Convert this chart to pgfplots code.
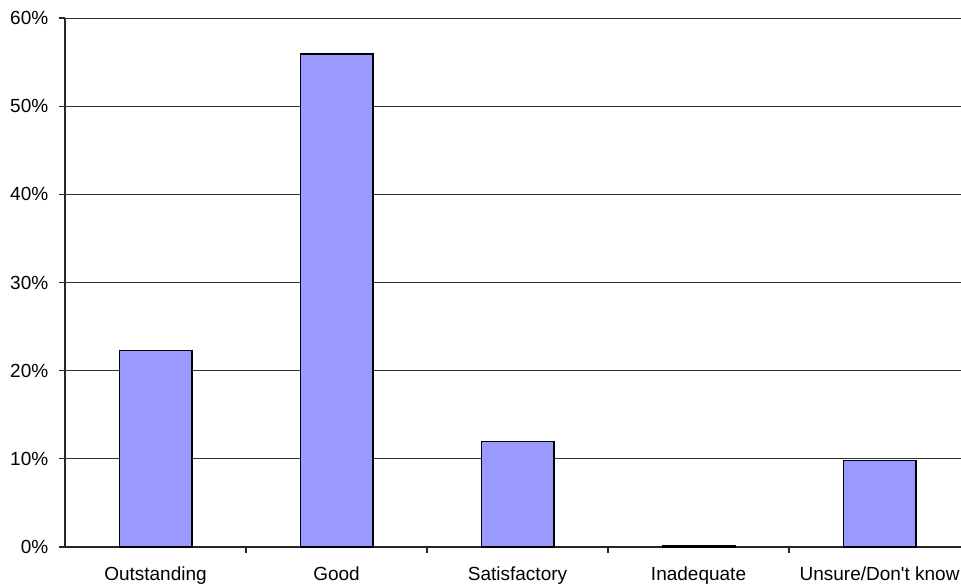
\documentclass[border=0pt]{standalone}
\usepackage{fontspec}
\setmainfont{Liberation Sans}
\usepackage{pgfplots}
\pgfplotsset{compat=1.18}
\definecolor{barblue}{HTML}{9999FF}
\begin{document}
\fontsize{9.5}{11}\selectfont
\begin{tikzpicture}
\begin{axis}[
  scale only axis,
  width=448pt, height=264.5pt,
  xmin=-0.5, xmax=4.45,
  ymin=0, ymax=60,
  axis x line=bottom, axis y line=left,
  axis line style={-, line width=0.6pt, black!85},
  xtick={0,1,2,3,4},
  xticklabels={Outstanding,Good,Satisfactory,Inadequate,Unsure/Don\textquotesingle t know},
  x tick label style={yshift=-3.5pt},
  major x tick style={draw=none},
  minor xtick={0.5,1.5,2.5,3.5},
  minor x tick style={line width=0.6pt, black!85},
  ytick={0,10,...,60},
  yticklabel={\pgfmathprintnumber{\tick}\%},
  y tick style={line width=0.6pt, black!85},
  tick align=outside,
  major tick length=3pt, minor tick length=3pt,
  ymajorgrids,
  grid style={line width=0.5pt, black!80},
  /pgf/number format/assume math mode=true,
  tick label style={font=\fontsize{9.5}{11}\selectfont},
  y tick label style={xshift=-2pt},
]
\addplot[ybar, bar width=36.3pt, fill=barblue, draw=black, line width=0.7pt]
  coordinates {(0,22.3) (1,55.9) (2,12.0) (3,0.2) (4,9.8)};
\end{axis}
\pgfresetboundingbox
\useasboundingbox (-32.5pt,-19pt) rectangle (448pt,273.5pt);
\end{tikzpicture}
\end{document}
